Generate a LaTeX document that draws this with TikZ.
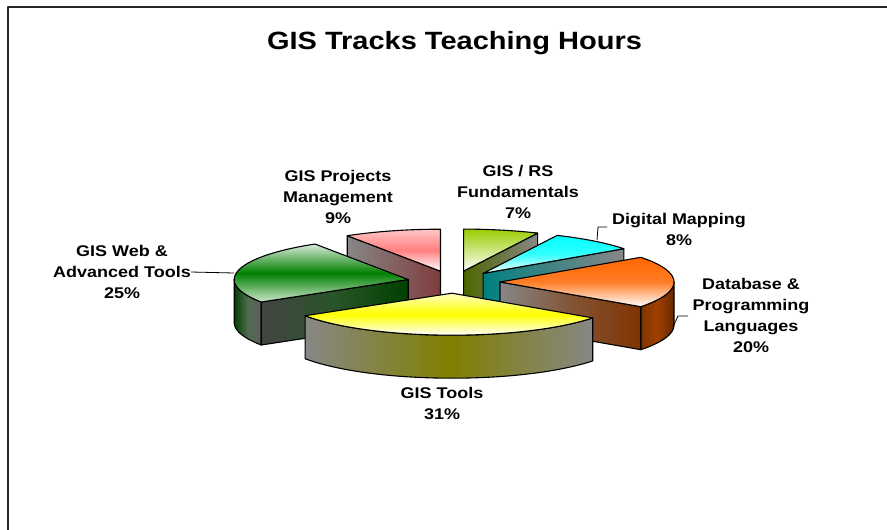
\documentclass[tikz,border=0pt]{standalone}
\usepackage{fontspec}
\setmainfont{Liberation Sans}[FakeStretch=1.16]
\definecolor{pinkC}{RGB}{255,128,128}
\definecolor{rsC}{RGB}{153,204,0}
\definecolor{cyanC}{RGB}{0,255,255}
\definecolor{orangeC}{RGB}{255,102,0}
\definecolor{greenC}{RGB}{0,128,0}
\definecolor{yellowC}{RGB}{255,255,0}
\definecolor{pinkW}{RGB}{128,60,60}
\definecolor{rsW}{RGB}{77,102,0}
\definecolor{tealW}{RGB}{0,128,128}
\definecolor{brownW}{RGB}{128,51,0}
\definecolor{dgreenW}{RGB}{0,64,0}
\definecolor{oliveW}{RGB}{128,128,0}
\definecolor{greyW}{RGB}{135,135,135}
\def\pieA{174}
\def\pieB{42}
\def\pieH{43}
\newcommand\pietop[3]{%
  \path[#3] (0,0) -- plot[domain=#1:#2,samples=40] ({\pieA*sin(\x)},{-\pieB*cos(\x)}) -- cycle;}
\newcommand\piewall[2]{%
  \path[#2] (0,0) -- ({\pieA*sin(#1)},{-\pieB*cos(#1)}) -- ({\pieA*sin(#1)},{-\pieB*cos(#1)+\pieH}) -- (0,\pieH) -- cycle;}
\newcommand\pieside[3]{%
  \path[#3] plot[domain=#1:#2,samples=40] ({\pieA*sin(\x)},{-\pieB*cos(\x)}) -- plot[domain=#2:#1,samples=40] ({\pieA*sin(\x)},{-\pieB*cos(\x)+\pieH}) -- cycle;}
\begin{document}
\begin{tikzpicture}[x=1pt,y=-1pt,line join=round,
  outl/.style={draw=black,line width=1.1pt},
  lbl/.style={font=\fontsize{15.5}{21}\selectfont\bfseries,align=center,inner sep=0pt},
  ldr/.style={draw=black,line width=0.8pt}]
\useasboundingbox (0,0) rectangle (887,530);
\fill[white] (0,0) rectangle (887,530);
\draw[line width=2pt,black!85] (8,532) -- (8,7) -- (889,7);
\node[font=\fontsize{25}{30}\selectfont\bfseries,inner sep=0pt] (title) at (454.5,43.5) {GIS Tracks Teaching Hours};
% pink: GIS Projects Management
\begin{scope}[shift={(440.5,271.2)}]
  \piewall{327.6}{outl,left color=greyW,right color=pinkW}
  \pietop{327.6}{360}{outl,shading angle=20,top color=pinkC!45!white,bottom color=white,middle color=pinkC}
\end{scope}
% GIS / RS
\begin{scope}[shift={(463.6,271.1)}]
  \piewall{25.2}{outl,left color=rsW,right color=greyW}
  \pietop{0}{25.2}{outl,shading angle=-20,top color=rsC,bottom color=white}
\end{scope}
% Digital Mapping
\begin{scope}[shift={(483.1,273.4)}]
  \piewall{54}{outl,left color=tealW,right color=greyW}
  \pietop{25.2}{54}{outl,shading angle=40,top color=cyanC,bottom color=white,middle color=cyanC!80!white}
\end{scope}
% Web & Advanced
\begin{scope}[shift={(408.2,279.5)}]
  \pieside{237.6}{270}{outl,left color=dgreenW,right color=greyW!70!black,middle color=greyW!60!dgreenW}
  \piewall{237.6}{outl,left color=greyW!50!black,right color=dgreenW,middle color=dgreenW!70!greyW}
  \pietop{237.6}{327.6}{outl,shading angle=40,top color=greenC!15!white,bottom color=greenC!20!white,middle color=greenC}
\end{scope}
% Database
\begin{scope}[shift={(500,282)}]
  \pieside{90}{126}{outl,left color=brownW,right color=brownW!80!black,middle color=brownW!75!orangeC}
  \piewall{126}{outl,left color=greyW,right color=brownW,middle color=brownW!60!greyW}
  \pietop{54}{126}{outl,shading angle=40,top color=orangeC,bottom color=white,middle color=orangeC!85!white}
\end{scope}
% GIS Tools
\begin{scope}[shift={(452,293.2)}]
  \pieside{126}{237.6}{outl,left color=greyW,right color=greyW,middle color=oliveW}
  \pietop{126}{237.6}{outl,shading angle=15,top color=yellowC!25!white,bottom color=white,middle color=yellowC}
\end{scope}
% labels
\node[lbl] (proj) at (338,197) {GIS Projects\\Management\\9\%};
\node[lbl] (rs) at (518,192) {GIS / RS\\Fundamentals\\7\%};
\node[lbl] (dm) at (679,229) {Digital Mapping\\8\%};
\node[lbl] (db) at (751,315) {Database \&\\Programming\\Languages\\20\%};
\node[lbl] (web) at (122,272) {GIS Web \&\\Advanced Tools\\25\%};
\node[lbl] (tools) at (442,403) {GIS Tools\\31\%};
% leaders
\coordinate (webP) at (234,273);
\draw[ldr] (web.east) -- (webP);
\coordinate (dm1) at (607,227);
\coordinate (dm2) at (598,227);
\coordinate (dm3) at (597,240);
\draw[ldr] (dm1) -- (dm2) -- (dm3);
\coordinate (db1) at (688,316);
\coordinate (db2) at (678,316);
\coordinate (db3) at (673,327);
\draw[ldr] (db1) -- (db2) -- (db3);
\end{tikzpicture}
\end{document}
